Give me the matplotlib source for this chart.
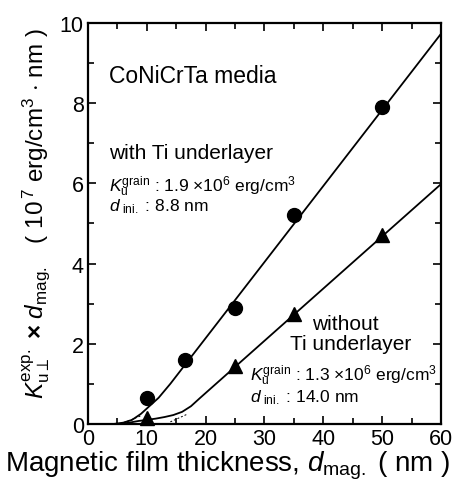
import matplotlib
matplotlib.use("Agg")
import matplotlib.pyplot as plt
from matplotlib.ticker import MultipleLocator

plt.rcParams['font.family'] = ['Liberation Sans', 'DejaVu Sans']
plt.rcParams['mathtext.fontset'] = 'custom'
plt.rcParams['mathtext.rm'] = 'Liberation Sans'
plt.rcParams['mathtext.it'] = 'Liberation Sans:italic'
plt.rcParams['mathtext.bf'] = 'Liberation Sans:bold'

# measured data
ti_x = [10, 16.5, 25, 35, 50]
ti_y = [0.65, 1.6, 2.9, 5.2, 7.9]
noti_x = [10, 25, 35, 50]
noti_y = [0.15, 1.45, 2.75, 4.7]

# fitted curves
ti_fit_x = [4.5, 6, 7.5, 9, 10.5, 12, 14, 60]
ti_fit_y = [0.0, 0.03, 0.1, 0.25, 0.45, 0.65, 1.0, 9.73]
noti_fit_x = [5.5, 7, 8.5, 10, 11.5, 13, 14.5, 16, 17.5, 19, 60]
noti_fit_y = [0.0, 0.03, 0.07, 0.1, 0.13, 0.17, 0.22, 0.3, 0.44, 0.64, 5.98]

# dashed short segments near the origin
ti_dash_x = [5.5, 9.0]
ti_dash_y = [0.0, 0.2]
noti_dash_x = [14.0, 17.0]
noti_dash_y = [0.05, 0.25]

W, H = 456, 485
fig = plt.figure(figsize=(W / 100, H / 100), dpi=100)
ax = fig.add_axes([0.193, 0.124, 0.774, 0.8265])

ax.plot(ti_fit_x, ti_fit_y, color='black', lw=1.3)
ax.plot(noti_fit_x, noti_fit_y, color='black', lw=1.3)
ax.plot(ti_dash_x, ti_dash_y, color='black', lw=0.7, ls=(0, (2, 2)))
ax.plot(noti_dash_x, noti_dash_y, color='black', lw=0.7, ls=(0, (2, 2)))
ax.plot(ti_x, ti_y, 'o', color='black', ms=10, clip_on=False)
ax.plot(noti_x, noti_y, '^', color='black', ms=10, clip_on=False)

ax.set_xlim(0, 60)
ax.set_ylim(0, 10)
ax.xaxis.set_major_locator(MultipleLocator(10))
ax.xaxis.set_minor_locator(MultipleLocator(5))
ax.yaxis.set_major_locator(MultipleLocator(2))
ax.yaxis.set_minor_locator(MultipleLocator(1))
ax.tick_params(which='both', direction='in', top=True, right=True, width=1.2)
ax.tick_params(which='major', length=6, labelsize=15.5, pad=3)
ax.tick_params(which='minor', length=4)
for s in ax.spines.values():
    s.set_linewidth(1.6)

fig.text(228 / W, 1 - 472 / H, r'Magnetic film thickness, $d_{\rm mag.}$ ( nm )',
         fontsize=20, ha='center', va='baseline')
fig.text(36 / W, 1 - 214 / H,
         r'$K_{\rm u\perp}^{\rm exp.}$ $\mathbf{\times}$ $d_{\rm mag.}$   ( 10$^{\,7}$ erg/cm$^3$ $\cdot$ nm )',
         fontsize=17.5, rotation=90, ha='center', va='center')

ax.text(3.6, 8.7, 'CoNiCrTa media', fontsize=16.5, va='center', ha='left')
ax.text(3.6, 6.78, 'with Ti underlayer', fontsize=15, va='center', ha='left')
ax.text(3.6, 5.95, r'$K_{\rm u}^{\rm grain}$ : 1.9 $\times$10$^6$ erg/cm$^3$', fontsize=12.5, va='center', ha='left')
ax.text(3.6, 5.45, r'$d_{\rm \ ini.}$ : 8.8 nm', fontsize=12.5, va='center', ha='left')

ax.text(43.8, 2.5, 'without', fontsize=15, va='center', ha='center')
ax.text(44.6, 2.0, 'Ti underlayer', fontsize=15, va='center', ha='center')
ax.text(27.6, 1.22, r'$K_{\rm u}^{\rm grain}$ : 1.3 $\times$10$^6$ erg/cm$^3$', fontsize=12.5, va='center', ha='left')
ax.text(27.6, 0.68, r'$d_{\rm \ ini.}$ : 14.0 nm', fontsize=12.5, va='center', ha='left')

fig.savefig('out.png', dpi=100)
